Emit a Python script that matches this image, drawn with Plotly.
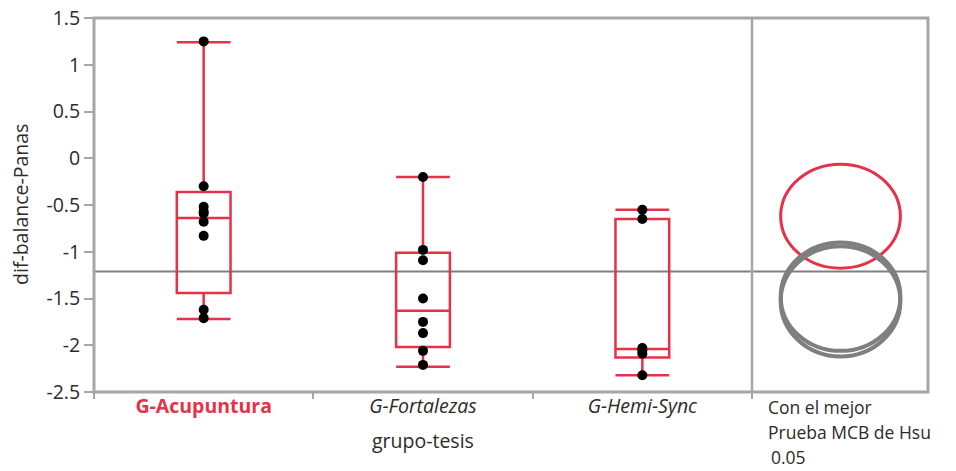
import plotly.graph_objects as go

# ---- data ----
categories = ["G-Acupuntura", "G-Fortalezas", "G-Hemi-Sync"]
tick_labels = ["<b><span style='color:#E63248'>G-Acupuntura</span></b>",
               "<i>G-Fortalezas</i>", "<i>G-Hemi-Sync</i>"]
points_acu = [1.25, -0.30, -0.52, -0.57, -0.59, -0.68, -0.83, -1.62, -1.71]
points_fort = [-0.20, -0.98, -1.09, -1.50, -1.75, -1.87, -2.06, -2.21]
points_hemi = [-0.55, -0.65, -2.03, -2.06, -2.09, -2.32]
q1 = [-1.44, -2.02, -2.13]
median = [-0.64, -1.63, -2.04]
q3 = [-0.36, -1.01, -0.65]
lowerfence = [-1.72, -2.23, -2.32]
upperfence = [1.24, -0.20, -0.55]
ref_value = -1.21
group_means = [-0.62, -1.48, -1.53]
circle_radius = [0.556, 0.58, 0.59]
y_tickvals = [1.5, 1, 0.5, 0, -0.5, -1, -1.5, -2, -2.5]
y_ticktext = ["1.5", "1", "0.5", "0", "-0.5", "-1", "-1.5", "-2", "-2.5"]

RED = "#E63248"
GRAY = "#7F7F7F"
FRAME = "#A6A6A6"
FONT = "Open Sans"
FS = 19.5
TXT = "#2b2b2b"

fig = go.Figure()

fig.add_trace(go.Box(
    x=categories, q1=q1, median=median, q3=q3,
    lowerfence=lowerfence, upperfence=upperfence,
    width=0.245, whiskerwidth=1, boxpoints=False,
    line=dict(color=RED, width=2.5), fillcolor="rgba(0,0,0,0)",
    xaxis="x", yaxis="y", showlegend=False, hoverinfo="skip"))

for cat, pts in zip(categories, [points_acu, points_fort, points_hemi]):
    fig.add_trace(go.Scatter(
        x=[cat] * len(pts), y=pts, mode="markers",
        marker=dict(color="black", size=10),
        xaxis="x", yaxis="y", showlegend=False))

# invisible trace to activate second x axis
fig.add_trace(go.Scatter(x=[0.5], y=[ref_value], mode="markers",
                         marker=dict(opacity=0), xaxis="x2", yaxis="y",
                         showlegend=False, hoverinfo="skip"))

split = (752 - 94) / 834

shapes = []
shapes.append(dict(type="line", xref="paper", yref="y", x0=0, x1=1,
                   y0=ref_value, y1=ref_value,
                   line=dict(color=GRAY, width=2), layer="below"))
colors = [RED, GRAY, GRAY]
widths = [3, 4, 4]
for m, r, c, w in zip(group_means, circle_radius, colors, widths):
    shapes.append(dict(type="circle", xref="x2", yref="y",
                       x0=0.503 - 0.34, x1=0.503 + 0.34,
                       y0=m - r, y1=m + r,
                       line=dict(color=c, width=w)))
shapes.append(dict(type="rect", xref="paper", yref="paper", x0=0, x1=1,
                   y0=0, y1=1, line=dict(color=FRAME, width=3)))
shapes.append(dict(type="line", xref="paper", yref="paper", x0=split, x1=split,
                   y0=0, y1=1, line=dict(color=FRAME, width=2.5)))

afont = dict(family=FONT, size=FS, color=TXT)
afont_small = dict(family=FONT, size=17.5, color=TXT)
annotations = [
    dict(text="dif-balance-Panas", xref="paper", yref="paper", x=0, xshift=-74,
         y=0.5, xanchor="center", yanchor="middle", textangle=-90,
         showarrow=False, font=afont),
    dict(text="grupo-tesis", xref="x", yref="paper", x=1, y=0, yshift=-48,
         xanchor="center", yanchor="middle", showarrow=False, font=afont),
    dict(text="Con el mejor", xref="paper", yref="paper", x=(766 - 94) / 834,
         y=0, yshift=-15, xanchor="left", yanchor="middle", showarrow=False,
         font=afont_small),
    dict(text="Prueba MCB de Hsu", xref="paper", yref="paper", x=(766 - 94) / 834,
         y=0, yshift=-40, xanchor="left", yanchor="middle", showarrow=False,
         font=afont_small),
    dict(text="0.05", xref="paper", yref="paper", x=(769 - 94) / 834,
         y=0, yshift=-65, xanchor="left", yanchor="middle", showarrow=False,
         font=afont_small),
]

fig.update_layout(
    width=956, height=471,
    margin=dict(l=94, r=28, t=18, b=79),
    paper_bgcolor="white", plot_bgcolor="white",
    font=dict(family=FONT, size=FS, color=TXT),
    xaxis=dict(domain=[0, split], type="category", range=[-0.5, 2.5],
               tickvals=categories, ticktext=tick_labels, tickson="boundaries",
               ticks="outside", ticklen=6, tickwidth=2, tickcolor=FRAME,
               showgrid=False, zeroline=False, showline=False, automargin=False,
               tickfont=dict(family=FONT, size=FS, color=TXT)),
    xaxis2=dict(domain=[split, 1], range=[0, 1], showticklabels=False,
                showgrid=False, zeroline=False, showline=False, ticks=""),
    yaxis=dict(range=[-2.5, 1.5], tickvals=y_tickvals, ticktext=y_ticktext,
               ticks="outside", ticklen=9, tickwidth=2, tickcolor=FRAME,
               showgrid=False, zeroline=False, showline=False, automargin=False,
               tickfont=dict(family=FONT, size=FS, color=TXT)),
    shapes=shapes, annotations=annotations,
)

fig.write_html("out.html", config={"displayModeBar": False},
               post_script="document.body.style.margin='0';document.body.style.overflow='hidden';")
